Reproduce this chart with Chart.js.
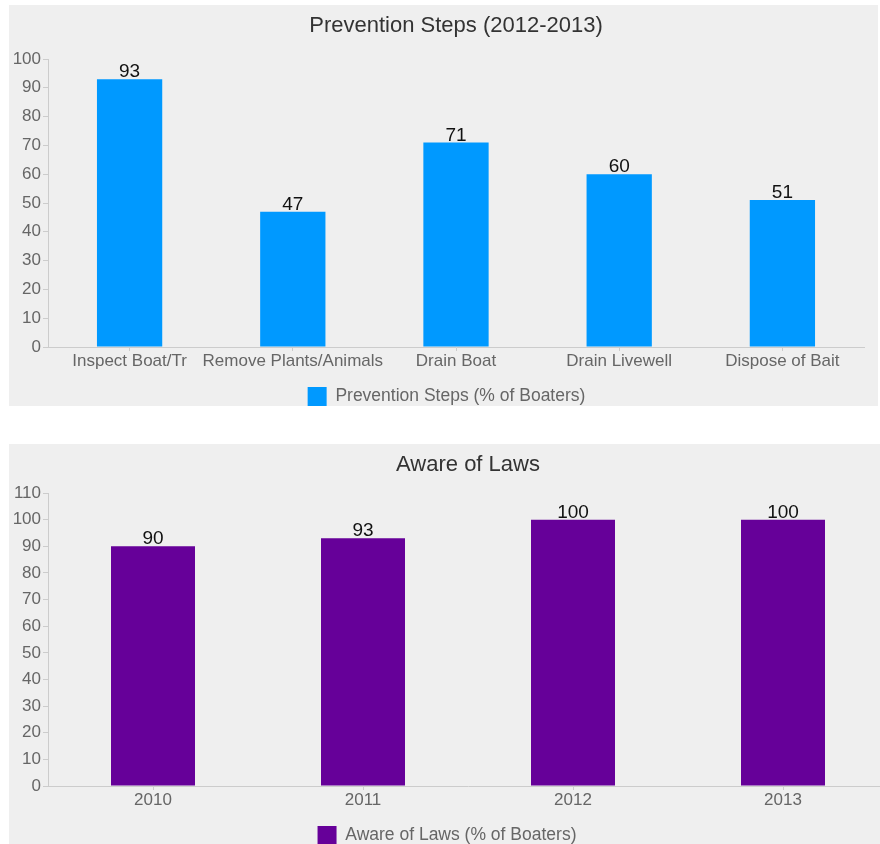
<!DOCTYPE html>
<html>
<head>
<meta charset="utf-8">
<script src="https://cdn.jsdelivr.net/npm/chart.js@4"></script>
<style>
  html, body { margin: 0; padding: 0; background: #fff; overflow: hidden; }
  .panel { position: absolute; left: 9px; background: #efefef; overflow: hidden; }
  #panel1 { top: 5px; width: 869px; height: 401px; }
  #panel2 { top: 444px; width: 871px; height: 400px; }
  canvas { display: block; }
</style>
</head>
<body>
<div class="panel" id="panel1"><canvas id="prevention-chart" width="869" height="411"></canvas></div>
<div class="panel" id="panel2"><canvas id="aware-chart" width="893" height="411"></canvas></div>
<script>
// Data
const preventionSteps = ["Inspect Boat/Tr", "Remove Plants/Animals", "Drain Boat", "Drain Livewell", "Dispose of Bait"];
const preventionValues = [93, 47, 71, 60, 51];
const awareYears = ["2010", "2011", "2012", "2013"];
const awareValues = [90, 93, 100, 100];

Chart.defaults.font.family = "'Liberation Sans', Arial, sans-serif";
Chart.defaults.animation = false;

// Value labels above each bar
const valueLabels = {
  id: "valueLabels",
  afterDatasetsDraw(chart) {
    const ctx = chart.ctx;
    ctx.save();
    ctx.font = "19px 'Liberation Sans', Arial, sans-serif";
    ctx.fillStyle = "#111";
    ctx.textAlign = "center";
    ctx.textBaseline = "alphabetic";
    chart.data.datasets.forEach((ds, i) => {
      chart.getDatasetMeta(i).data.forEach((bar, j) => {
        ctx.fillText(ds.data[j], bar.x, bar.y - 2);
      });
    });
    ctx.restore();
  }
};

// nudge the legend sideways a little
const legendShift = {
  id: "legendShift",
  afterLayout(chart, args, options) {
    if (options.dx && chart.legend) {
      chart.legend.left += options.dx;
      chart.legend.right += options.dx;
    }
  }
};

function makeChart(canvasId, labels, values, opts) {
  const ctx = document.getElementById(canvasId).getContext("2d");
  return new Chart(ctx, {
    type: "bar",
    data: {
      labels: labels,
      datasets: [{
        label: opts.legend,
        data: values,
        backgroundColor: opts.color,
        barPercentage: 0.4,
        categoryPercentage: 1.0
      }]
    },
    plugins: [valueLabels, legendShift],
    options: {
      responsive: false,
      layout: { padding: { left: opts.padLeft, right: 14, top: 0, bottom: 0 } },
      plugins: {
        legendShift: { dx: opts.legendDx },
        title: {
          display: true,
          text: opts.title,
          fullSize: false,
          color: "#333",
          font: { size: 22, weight: "normal" },
          padding: { top: 8, bottom: opts.titleGap }
        },
        legend: {
          position: "bottom",
          labels: {
            boxWidth: 19,
            boxHeight: 19,
            padding: 10,
            color: "#666",
            font: { size: 17.5 }
          }
        },
        tooltip: { enabled: false }
      },
      scales: {
        x: {
          grid: { drawOnChartArea: false, offset: false, tickLength: 4, color: "#ccc" },
          border: { color: "#ccc" },
          ticks: { color: "#666", font: { size: 17 }, padding: 0, maxRotation: 0, autoSkip: false },
          afterFit(scale) { scale.height = 30; }
        },
        y: {
          min: 0,
          max: opts.max,
          grid: { drawOnChartArea: false, tickLength: 5, color: "#ccc" },
          border: { color: "#ccc" },
          ticks: { stepSize: 10, color: "#666", font: { size: 17 }, padding: 2 },
          afterFit(scale) { scale.width = opts.yWidth; }
        }
      }
    }
  });
}

makeChart("prevention-chart", preventionSteps, preventionValues, {
  title: "Prevention Steps (2012-2013)",
  legend: "Prevention Steps (% of Boaters)",
  color: "#0099ff",
  max: 100,
  titleGap: 19.6,
  padLeft: 0,
  yWidth: 39,
  legendDx: 10
});

makeChart("aware-chart", awareYears, awareValues, {
  title: "Aware of Laws",
  legend: "Aware of Laws (% of Boaters)",
  color: "#660099",
  max: 110,
  titleGap: 14.6,
  padLeft: -3,
  yWidth: 42,
  legendDx: 0
});
</script>
</body>
</html>
